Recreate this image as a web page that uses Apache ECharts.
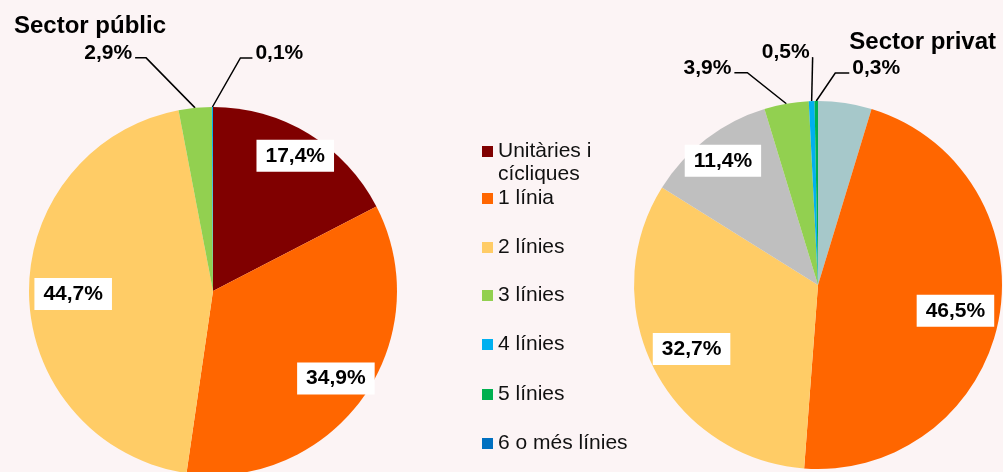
<!DOCTYPE html>
<html>
<head>
<meta charset="utf-8">
<script src="https://cdn.jsdelivr.net/npm/echarts@6/dist/echarts.min.js"></script>
<style>
  html, body { margin: 0; padding: 0; background: #fff; }
  #chart { width: 1003px; height: 472px; }
</style>
</head>
<body>
<div id="chart"></div>
<script>
const categories = ['Unitàries i cícliques', '1 línia', '2 línies', '3 línies', '4 línies', '5 línies', '6 o més línies'];
// sector públic, clockwise from 12 o'clock
const publicNames = ['Unitàries i cícliques', '1 línia', '2 línies', '3 línies', '4 línies', '5 línies', '6 o més línies'];
const publicValues = [17.4, 34.9, 44.7, 2.9, 0.1, 0, 0];
// sector privat, clockwise from 12 o'clock (two slices have no legend entry)
const privateNames = ['Altres', '1 línia', '2 línies', 'Sense classificar', '3 línies', '4 línies', '5 línies', '6 o més línies'];
const privateValues = [4.7, 46.5, 32.7, 11.4, 3.9, 0.5, 0.3, 0];

const colors = {
  'Unitàries i cícliques': '#800000',
  '1 línia': '#FF6600',
  '2 línies': '#FFCC66',
  '3 línies': '#92D050',
  '4 línies': '#00B0F0',
  '5 línies': '#00B050',
  '6 o més línies': '#0070C0',
  'Altres': '#A6C8CA',
  'Sense classificar': '#BFBFBF'
};

const font = '"Liberation Sans", Arial, sans-serif';

// label placement: r = inside at fraction of radius; otherwise leader line
const publicLabels = {
  'Unitàries i cícliques': { r: 0.86 },
  '1 línia': { r: 0.82 },
  '2 línies': { r: 0.76 },
  '3 línies': { bend: [-49, -50], run: -11, side: 'left' },
  '4 línies': { bend: [28, -49], run: 12, side: 'right' }
};
const privateLabels = {
  '1 línia': { r: 0.76 },
  '2 línies': { r: 0.77 },
  'Sense classificar': { r: 0.85 },
  '3 línies': { bend: [-39, -31], run: -13, side: 'left' },
  '4 línies': { bend: [1, -44], run: 0, side: 'left' },
  '5 línies': { bend: [19, -28], run: 14, side: 'right' }
};

const insideLabel = {
  show: true, position: 'inside', color: '#000', fontFamily: font, fontSize: 21, fontWeight: 'bold',
  backgroundColor: '#fff', padding: [6, 9, 5, 9]
};
const outsideLabel = {
  show: true, position: 'outside', color: '#000', fontFamily: font, fontSize: 21, fontWeight: 'bold'
};

function buildData(names, values, labels) {
  return names.map((n, i) => {
    const cfg = labels[n];
    const item = { name: n, value: values[i], itemStyle: { color: colors[n] } };
    if (!cfg || values[i] === 0) {
      item.label = { show: false };
      item.labelLine = { show: false };
    } else if (cfg.r) {
      item.label = insideLabel;
      item.labelLine = { show: false };
    } else {
      item.label = outsideLabel;
    }
    return item;
  });
}

function makeLayout(names, values, center, radius, labels) {
  const total = values.reduce((a, b) => a + b, 0);
  return function (p) {
    const i = p.dataIndex;
    const cfg = labels[names[i]];
    if (!cfg) return {};
    let before = 0;
    for (let k = 0; k < i; k++) before += values[k];
    const mid = (before + values[i] / 2) / total * 2 * Math.PI;
    const sx = Math.sin(mid), cy = -Math.cos(mid);
    if (cfg.r) {
      return {
        x: center[0] + sx * radius * cfg.r,
        y: center[1] + cy * radius * cfg.r,
        align: 'center', verticalAlign: 'middle'
      };
    }
    const ex = center[0] + sx * radius, ey = center[1] + cy * radius;
    const bx = ex + cfg.bend[0], by = ey + cfg.bend[1];
    const endX = bx + cfg.run;
    const toRight = cfg.side === 'right';
    return {
      x: endX + (toRight ? 3 : -3),
      y: by - 5,
      align: toRight ? 'left' : 'right',
      verticalAlign: 'middle',
      labelLinePoints: [[ex, ey], [bx, by], [endX, by]]
    };
  };
}

const fmt = p => p.value.toFixed(1).replace('.', ',') + '%';

const leftCenter = [213, 291];
const rightCenter = [818, 285];
const pieRadius = 184;

// legend: one block per entry so the spacing follows the original
// first entry: empty line first so "Unitàries i" sits level with the swatch
const legendTops = [117, 188, 237, 285, 334, 384, 433];
const legends = categories.map((c, i) => ({
  data: [c],
  orient: 'vertical',
  left: 482,
  top: legendTops[i],
  padding: 0,
  itemWidth: 11,
  itemHeight: 11,
  icon: 'rect',
  selectedMode: false,
  formatter: i === 0 ? ' \nUnitàries i\ncícliques' : '{name}',
  textStyle: i === 0
    ? { fontFamily: font, fontSize: 21, color: '#111', lineHeight: 23 }
    : { fontFamily: font, fontSize: 21, color: '#111' }
}));

const chart = echarts.init(document.getElementById('chart'));
chart.setOption({
  backgroundColor: '#fcf4f5',
  animation: false,
  title: [
    { text: 'Sector públic', left: 14, top: 14, padding: 0,
      textStyle: { fontFamily: font, fontSize: 24, fontWeight: 'bold', color: '#000' } },
    { text: 'Sector privat', right: 7, top: 30, padding: 0,
      textStyle: { fontFamily: font, fontSize: 24, fontWeight: 'bold', color: '#000' } }
  ],
  legend: legends,
  series: [
    {
      name: 'Sector públic',
      type: 'pie',
      center: leftCenter,
      radius: pieRadius,
      startAngle: 90,
      clockwise: true,
      avoidLabelOverlap: false,
      emphasis: { disabled: true },
      itemStyle: { borderWidth: 0 },
      label: { formatter: fmt },
      labelLine: { show: true, smooth: false, length: 10, length2: 10, lineStyle: { color: '#000', width: 1.5 } },
      labelLayout: makeLayout(publicNames, publicValues, leftCenter, pieRadius, publicLabels),
      data: buildData(publicNames, publicValues, publicLabels)
    },
    {
      name: 'Sector privat',
      type: 'pie',
      center: rightCenter,
      radius: pieRadius,
      startAngle: 90,
      clockwise: true,
      avoidLabelOverlap: false,
      emphasis: { disabled: true },
      itemStyle: { borderWidth: 0 },
      label: { formatter: fmt },
      labelLine: { show: true, smooth: false, length: 10, length2: 10, lineStyle: { color: '#000', width: 1.5 } },
      labelLayout: makeLayout(privateNames, privateValues, rightCenter, pieRadius, privateLabels),
      data: buildData(privateNames, privateValues, privateLabels)
    }
  ]
});
</script>
</body>
</html>
